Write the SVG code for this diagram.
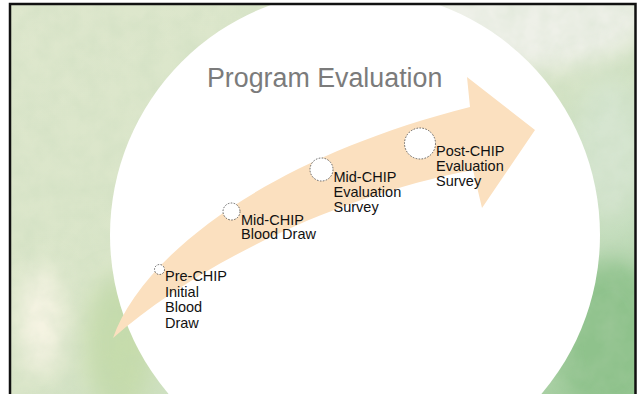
<svg xmlns="http://www.w3.org/2000/svg" width="639" height="394" viewBox="0 0 639 394">
  <defs>
    <style>
      .lbl { font-family: "Liberation Sans", Arial, sans-serif; font-size: 14.5px; fill: #111111; }
      .title { font-family: "Liberation Sans", Arial, sans-serif; font-size: 26.8px; fill: #7b7b7b; }
      .dot { fill: #ffffff; stroke: #555555; stroke-width: 0.9; stroke-dasharray: 1.6 1.4; }
    </style>
    <linearGradient id="wash" x1="0" y1="0" x2="1" y2="1">
      <stop offset="0" stop-color="#dee7cd"/>
      <stop offset="0.5" stop-color="#d9e5c8"/>
      <stop offset="0.78" stop-color="#c2dcbb"/>
      <stop offset="1" stop-color="#98c894"/>
    </linearGradient>
    <filter id="soft" x="-50%" y="-50%" width="200%" height="200%">
      <feGaussianBlur stdDeviation="12"/>
    </filter>
    <filter id="grain" x="0" y="0" width="100%" height="100%">
      <feTurbulence type="fractalNoise" baseFrequency="0.05" numOctaves="3" seed="4" result="n"/>
      <feColorMatrix in="n" type="matrix" values="0 0 0 0 0.5  0 0 0 0 0.65  0 0 0 0 0.45  0 0 0 0.35 -0.1" result="g"/>
      <feComposite in="g" in2="SourceGraphic" operator="in"/>
    </filter>
    <clipPath id="frameClip">
      <rect x="10" y="4" width="625.5" height="395"/>
    </clipPath>
  </defs>

  <rect width="639" height="394" fill="#ffffff"/>

  <!-- watercolour backdrop inside the frame -->
  <g id="backdrop" clip-path="url(#frameClip)">
    <rect x="10" y="4" width="626" height="395" fill="url(#wash)"/>
    <g filter="url(#soft)">
      <ellipse cx="520" cy="15" rx="130" ry="55" fill="#eef0e8"/>
      <ellipse cx="610" cy="150" rx="35" ry="70" fill="#d6e5d0"/>
      <ellipse cx="40" cy="320" rx="22" ry="55" fill="#f7f4e4"/>
      <ellipse cx="120" cy="345" rx="35" ry="70" fill="#c6dcac"/>
      <ellipse cx="610" cy="340" rx="55" ry="80" fill="#8fc28c"/>
    </g>
    <rect x="10" y="4" width="626" height="395" fill="#ffffff" filter="url(#grain)"/>
  </g>

  <!-- white disc behind the diagram -->
  <circle id="disc" cx="355" cy="235" r="245" fill="#ffffff"/>

  <!-- slide frame -->
  <path d="M10,398 V4 H635.5 V398" fill="none" stroke="#111111" stroke-width="2.5"/>

  <text class="title" x="207" y="87">Program Evaluation</text>

  <g id="connectors">
    <path id="timeline-arrow" d="M113,338 C140,260 260,160 470,107 L467,77 L535,130 L482,208 L473,170 C340,195 200,262 113,338 Z" fill="#fbe0bf"/>
  </g>

  <g id="pre-chip">
    <circle class="dot" cx="159.5" cy="269.5" r="5"/>
    <text class="lbl" x="165" y="281">Pre-CHIP</text>
    <text class="lbl" x="165" y="296.5">Initial</text>
    <text class="lbl" x="165" y="312">Blood</text>
    <text class="lbl" x="165" y="327.5">Draw</text>
  </g>

  <g id="mid-chip-blood">
    <circle class="dot" cx="231.5" cy="211.5" r="8.5"/>
    <text class="lbl" x="241" y="224.5">Mid-CHIP</text>
    <text class="lbl" x="241" y="239">Blood Draw</text>
  </g>

  <g id="mid-chip-survey">
    <circle class="dot" cx="321.5" cy="169.5" r="11.5"/>
    <text class="lbl" x="333.5" y="182">Mid-CHIP</text>
    <text class="lbl" x="333.5" y="197">Evaluation</text>
    <text class="lbl" x="333.5" y="212">Survey</text>
  </g>

  <g id="post-chip-survey">
    <circle class="dot" cx="420" cy="143.5" r="15.5"/>
    <text class="lbl" x="436" y="156">Post-CHIP</text>
    <text class="lbl" x="436" y="171">Evaluation</text>
    <text class="lbl" x="436" y="186">Survey</text>
  </g>
</svg>
